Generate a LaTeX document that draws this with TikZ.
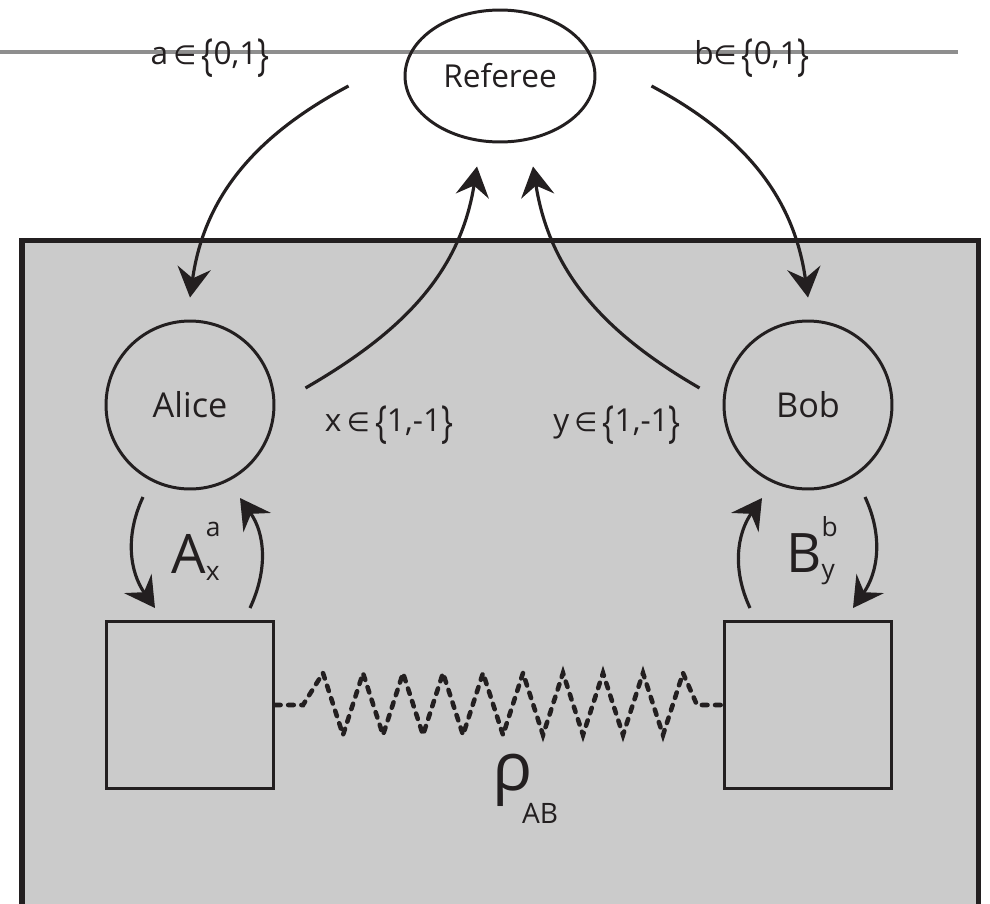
\documentclass[tikz,border=0pt]{standalone}
\usepackage{fontspec}
\setmainfont{Open Sans}
\newfontfamily\symbfont{DejaVu Sans}
\usepackage{xcolor}
\usetikzlibrary{arrows.meta, shapes.geometric}

\definecolor{ink}{HTML}{231F20}
\definecolor{panel}{HTML}{CBCBCB}
\definecolor{rulegray}{HTML}{8E8E8E}

\newcommand{\memb}{{\symbfont\fontsize{15}{15}\selectfont ∈}}
\newcommand{\lbr}{\raisebox{-3.5pt}{\scalebox{1}[1.4]{\{}}}
\newcommand{\rbr}{\raisebox{-3.5pt}{\scalebox{1}[1.4]{\}}}}

\begin{document}
\begin{tikzpicture}[
    x=0.02cm, y=0.02cm,
    player/.style={draw=ink, circle, line width=1.7pt, minimum size=3.36cm, inner sep=0pt, text=ink, font=\fontsize{19.5}{22}\selectfont},
    device/.style={draw=ink, rectangle, line width=1.7pt, minimum size=3.34cm, inner sep=0pt},
    judge/.style={draw=ink, ellipse, line width=1.7pt, minimum width=3.8cm, minimum height=2.64cm, inner sep=0pt, text=ink, font=\fontsize{18}{22}\selectfont},
    lbl/.style={inner sep=0pt, text=ink, font=\fontsize{18}{22}\selectfont},
    link/.style={draw=ink, line width=1.8pt, -{Stealth[length=17pt, width=19pt, inset=6pt]}},
    spring/.style={draw=ink, line width=2.6pt, line cap=round, dash pattern=on 3.2pt off 4.3pt}
]
    \useasboundingbox (0,0) rectangle (990,-903);
    \clip (0,0) rectangle (990,-903);

    % lab and top rule
    \draw[ink, line width=2.85pt, fill=panel] (22,-240) rectangle (978,-960);
    \draw[rulegray, line width=2pt] (0,-52) -- (958,-52);

    \node[judge] (ref) at (500,-76) {Referee};
    \node[player] (alice) at (190,-405) {Alice};
    \node[player] (bob) at (808,-405) {Bob};
    \node[device] (qa) at (190,-705) {};
    \node[device] (qb) at (808,-705) {};

    % inputs and outputs
    \node[lbl] (inA) at (210,-58) {a\,\memb\,\lbr0,1\rbr};
    \node[lbl] (inB) at (752,-58) {b\memb\,\lbr0,1\rbr};
    \node[lbl] (outA) at (389,-425) {x\,\memb\,\lbr1,-1\rbr};
    \node[lbl] (outB) at (617,-425) {y\,\memb\,\lbr1,-1\rbr};

    % measurements and state
    \node[lbl, anchor=base west] (opA) at (171,-573) {\fontsize{31}{32}\selectfont A\rlap{\raisebox{21pt}{\fontsize{15}{15}\selectfont a}}\raisebox{-4pt}{\fontsize{15}{15}\selectfont x}};
    \node[lbl, anchor=base west] (opB) at (786,-572) {\fontsize{31}{32}\selectfont B\rlap{\raisebox{20pt}{\fontsize{15}{15}\selectfont b}}\raisebox{-3.5pt}{\fontsize{15}{15}\selectfont y}};
    \node[lbl, anchor=base west] (state) at (492,-790) {\fontsize{38}{38}\selectfont ρ\kern-6pt\raisebox{-19pt}{\fontsize{16}{16}\selectfont AB}};

    % referee <-> players
    \draw[link] ([shift={(-55,-10)}]ref.west) to[out=208, in=82] ([shift={(0,22)}]alice.north);
    \draw[link] ([shift={(55,-10)}]ref.east) to[out=-28, in=98] ([shift={(0,22)}]bob.north);
    \draw[link] ([shift={(30,17)}]alice.east) to[out=30, in=-99] ([shift={(-23,-23)}]ref.south);
    \draw[link] ([shift={(-23,17)}]bob.west) to[out=150, in=-81] ([shift={(33,-23)}]ref.south);

    % players <-> devices
    \draw[link] ([shift={(-47,-92)}]alice.center) to[out=245, in=125] ([shift={(-35,12)}]qa.north);
    \draw[link] ([shift={(60,12)}]qa.north) to[out=65, in=-55] ([shift={(50,-93)}]alice.center);
    \draw[link] ([shift={(-58,12)}]qb.north) to[out=115, in=-125] ([shift={(-46,-93)}]bob.center);
    \draw[link] ([shift={(57,-92)}]bob.center) to[out=-65, in=55] ([shift={(45,12)}]qb.north);

    % entanglement
    \draw[spring] (qa.east) -- (303,-705)
        \foreach \k in {0,...,8} { -- (323+40*\k,-673) -- (343+40*\k,-735) }
        -- (683,-673) -- (697,-705) -- (qb.west);
\end{tikzpicture}
\end{document}
